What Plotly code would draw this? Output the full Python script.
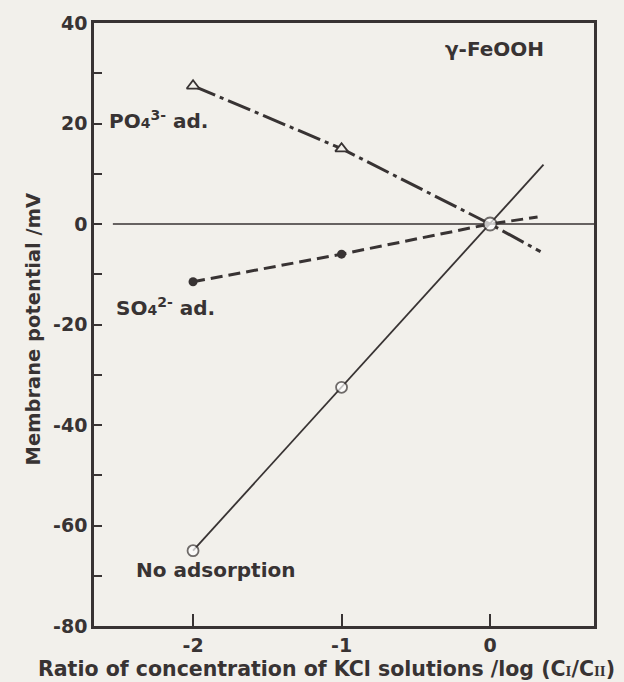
import plotly.graph_objects as go

# ---- data ----
x_conc = [-2, -1, 0]                     # log(CI/CII)
po4_ad = [27.5, 15.0, 0.0]               # PO4(3-) adsorbed, mV
so4_ad = [-11.5, -6.0, 0.0]              # SO4(2-) adsorbed, mV
no_ads = [-65.0, -32.5, 0.0]             # no adsorption, mV

# extrapolated line ends beyond x = 0 (drawn lines only)
po4_ext = (0.34, -5.5)
so4_ext = (0.32, 1.4)
no_ext = (0.36, 11.8)

x_ticks = [-2, -1, 0]
y_ticks = [-80, -60, -40, -20, 0, 20, 40]

INK = "#383333"
BG = "#f2f0eb"
FONT = "DejaVu Sans, Arial, sans-serif"

fig = go.Figure()

# zero reference line
fig.add_shape(type="line", xref="x", yref="y", x0=-2.54, x1=0.70, y0=0, y1=0,
              line=dict(color=INK, width=1.6), layer="below")

# PO4 line (dash-dot) with triangles
fig.add_trace(go.Scatter(x=x_conc + [po4_ext[0]], y=po4_ad + [po4_ext[1]],
                         mode="lines", line=dict(color=INK, width=3, dash="24px,5px,4px,5px"),
                         hoverinfo="skip", showlegend=False))
fig.add_trace(go.Scatter(x=x_conc[:2], y=po4_ad[:2], mode="markers",
                         marker=dict(symbol="triangle-up", size=11, color=BG,
                                     line=dict(color=INK, width=1.8)),
                         showlegend=False))

# SO4 line (dashed) with filled dots
fig.add_trace(go.Scatter(x=x_conc + [so4_ext[0]], y=so4_ad + [so4_ext[1]],
                         mode="lines", line=dict(color=INK, width=3, dash="12px,6px"),
                         hoverinfo="skip", showlegend=False))
fig.add_trace(go.Scatter(x=x_conc[:2], y=so4_ad[:2], mode="markers",
                         marker=dict(symbol="circle", size=9, color=INK),
                         showlegend=False))

# No adsorption line (solid thin) with open circles
fig.add_trace(go.Scatter(x=x_conc + [no_ext[0]], y=no_ads + [no_ext[1]],
                         mode="lines", line=dict(color=INK, width=1.8),
                         hoverinfo="skip", showlegend=False))
fig.add_trace(go.Scatter(x=x_conc, y=no_ads, mode="markers",
                         marker=dict(symbol="circle", size=[11, 11, 13], color="white",
                                     line=dict(color=INK, width=1.8)),
                         showlegend=False))

ann_font = dict(family=FONT, size=20, color=INK, weight="bold")
annotations = [
    dict(x=107, y=117, text="PO<span style='font-size:14px'>4</span><sup>3-</sup> ad."),
    dict(x=114, y=305, text="SO<span style='font-size:14px'>4</span><sup>2-</sup> ad."),
    dict(x=134, y=570, text="No adsorption"),
    dict(x=443, y=46, text="\u03b3-FeOOH"),
]
L, T, W, H = 94, 20, 500, 606
for a in annotations:
    fig.add_annotation(x=(a["x"] - L) / W, y=1 - (a["y"] - T) / H, xref="paper", yref="paper",
                       text=a["text"], showarrow=False, xanchor="left", yanchor="middle",
                       font=ann_font)

# axis titles as annotations for exact placement
fig.add_annotation(x=(33 - L) / W, y=1 - (328 - T) / H, xref="paper", yref="paper",
                   text="Membrane potential /mV", textangle=-90, showarrow=False,
                   xanchor="center", yanchor="middle",
                   font=dict(family=FONT, size=19.5, color=INK, weight="bold"))
sub_style = "font-size:15px;font-family:Liberation Serif, serif"
fig.add_annotation(x=(326 - L) / W, y=-(669 - 626) / H, xref="paper", yref="paper",
                   text=("Ratio of concentration of KCl solutions /log (C"
                         f"<span style='{sub_style}'>I</span>/C<span style='{sub_style}'>II</span>)"),
                   showarrow=False, xanchor="center", yanchor="middle",
                   font=dict(family=FONT, size=20.5, color=INK, weight="bold"))

fig.update_xaxes(range=[-2.667, 0.70], tickvals=x_ticks, ticktext=[str(v) for v in x_ticks],
                 ticks="inside", ticklen=12, tickwidth=2, tickcolor=INK,
                 showline=True, linewidth=2.5, linecolor=INK, mirror=True,
                 showgrid=False, zeroline=False,
                 tickfont=dict(family=FONT, size=19, color=INK, weight="bold"))
fig.update_yaxes(range=[-80, 40], tickvals=y_ticks, ticktext=[str(v) for v in y_ticks],
                 ticks="inside", ticklen=8, tickwidth=2, tickcolor=INK,
                 minor=dict(tickvals=[-70, -50, -30, -10, 10, 30], ticks="inside", ticklen=8,
                            tickwidth=2, tickcolor=INK, showgrid=False),
                 showline=True, linewidth=2.5, linecolor=INK, mirror=True,
                 showgrid=False, zeroline=False,
                 tickfont=dict(family=FONT, size=19, color=INK, weight="bold"))

fig.update_layout(width=624, height=682, margin=dict(l=L, r=624 - L - W, t=T, b=682 - T - H),
                  paper_bgcolor=BG, plot_bgcolor=BG, showlegend=False)

fig.write_html("out.html")
